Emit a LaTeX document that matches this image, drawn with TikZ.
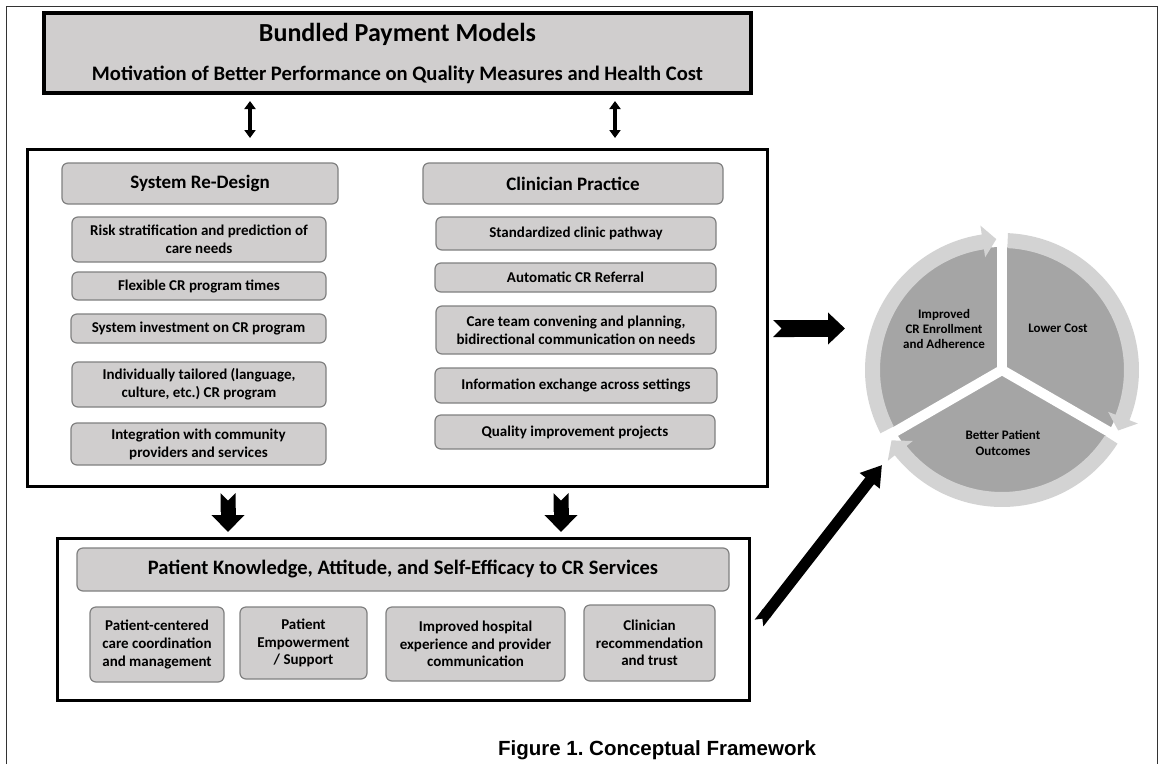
\documentclass[tikz,border=0pt]{standalone}
\usepackage{fontspec}
\setmainfont{Carlito}
\newfontfamily\capfont{Liberation Sans}
\usetikzlibrary{arrows.meta}
\frenchspacing

\definecolor{boxgray}{HTML}{D0CECE}
\definecolor{edgegray}{HTML}{808080}
\definecolor{piedark}{HTML}{A5A5A5}
\definecolor{ringlight}{HTML}{D3D3D3}

\begin{document}
\begin{tikzpicture}[x=1pt,y=-1pt,
  every node/.style={inner sep=0pt, outer sep=0pt},
  frame/.style={draw=black!80, line width=1pt},
  banner/.style={draw=black, line width=3.5pt, fill=boxgray},
  panel/.style={draw=black, line width=3pt},
  item/.style={draw=edgegray, line width=1.2pt, fill=boxgray, rounded corners=6pt,
    align=center, font=\bfseries\fontsize{15}{18}\selectfont},
  bitem/.style={item, font=\bfseries\fontsize{15}{17.7}\selectfont},
  hdr/.style={item, font=\bfseries\fontsize{19}{23}\selectfont},
  pielabel/.style={align=center, font=\bfseries\fontsize{13}{15.2}\selectfont},
  dblarrow/.style={line width=4pt, {Triangle[width=11pt,length=8pt]}-{Triangle[width=11pt,length=8pt]}},
  fatarrow/.style n args={3}{line width=#1, {Triangle Cap[reversed]}-{Triangle[width=#2,length=#3]}}
]
\useasboundingbox (0,0) rectangle (1160,764);

% page frame
\draw[frame] (6.5,764) -- (6.5,6.5) -- (1157.5,6.5) -- (1157.5,764);

% payment model banner
\node[banner, minimum width=707pt, minimum height=80pt] (bpm) at (397.5,53) {};
\node[anchor=base, font=\bfseries\fontsize{26}{31}\selectfont] (bpmtitle) at (397.5,41) {Bundled Payment Models};
\node[anchor=base, font=\bfseries\fontsize{20.6}{25}\selectfont] (bpmsub) at (397.5,80) {Motivation of Better Performance on Quality Measures and Health Cost};

% system and clinician panel
\node[panel, minimum width=740pt, minimum height=337pt] (mid) at (397,317.5) {};
\node[hdr, minimum width=276pt, minimum height=41pt] (sysh) at (200,183.5) {System Re-Design};
\node[hdr, minimum width=300pt, minimum height=41pt] (clih) at (573,183.5) {Clinician Practice};

\node[item, minimum width=254pt, minimum height=45pt] (s1) at (199,239.5) {Risk stratification and prediction of\\care needs};
\node[item, minimum width=254pt, minimum height=28pt] (s2) at (199,286) {Flexible CR program times};
\node[item, minimum width=255pt, minimum height=29pt] (s3) at (198.5,328.5) {System investment on CR program};
\node[item, minimum width=254pt, minimum height=45pt] (s4) at (199,384.5) {Individually tailored (language,\\culture, etc.) CR program};
\node[item, minimum width=255pt, minimum height=42pt] (s5) at (198.5,444) {Integration with community\\providers and services};

\node[item, minimum width=280pt, minimum height=33pt] (c1) at (576,233.5) {Standardized clinic pathway};
\node[item, minimum width=281pt, minimum height=29pt] (c2) at (575.5,277.5) {Automatic CR Referral};
\node[item, minimum width=280pt, minimum height=48pt] (c3) at (576,330) {Care team convening and planning,\\bidirectional communication on needs};
\node[item, minimum width=282pt, minimum height=35pt] (c4) at (576,385.5) {Information exchange across settings};
\node[item, minimum width=280pt, minimum height=34pt] (c5) at (575,432) {Quality improvement projects};

% patient panel
\node[panel, minimum width=692pt, minimum height=162pt] (bot) at (403,619) {};
\node[item, font=\bfseries\fontsize{20.5}{24}\selectfont, minimum width=652pt, minimum height=43pt] (pkh) at (403,569.5) {Patient Knowledge, Attitude, and Self-Efficacy to CR Services};
\node[bitem, minimum width=134pt, minimum height=75pt] (p1) at (157,644.5) {Patient-centered\\care coordination\\and management};
\node[bitem, minimum width=127pt, minimum height=72pt] (p2) at (303.5,643) {Patient\\Empowerment\\/ Support};
\node[bitem, minimum width=179pt, minimum height=74pt] (p3) at (475.5,644) {Improved hospital\\experience and provider\\communication};
\node[bitem, minimum width=131pt, minimum height=76pt] (p4) at (649.5,643) {Clinician\\recommendation\\and trust};

% outcome cycle
\node[circle, minimum size=274pt] (cyc) at (1002,370) {};
\begin{scope}[shift={(1002,370)}, yscale=-1]
  \fill[piedark] (0,0) circle (123);
  \foreach \g in {90,-30,210}
    \draw[white, line width=10pt] (0,0) -- (\g:150);
  \fill[ringlight] (207.5:137) arc[start angle=207.5, end angle=98.5, radius=137]
    -- (98.5:146) -- (92.5:131) -- (98.5:114) -- (98.5:122)
    arc[start angle=98.5, end angle=207.5, radius=122] -- cycle;
  \fill[ringlight] (87.5:137) arc[start angle=87.5, end angle=-21.5, radius=137]
    -- (-21.5:146) -- (-27.5:131) -- (-21.5:114) -- (-21.5:122)
    arc[start angle=-21.5, end angle=87.5, radius=122] -- cycle;
  \fill[ringlight] (-32.5:137) arc[start angle=-32.5, end angle=-141.5, radius=137]
    -- (-141.5:146) -- (-147.5:131) -- (-141.5:114) -- (-141.5:122)
    arc[start angle=-141.5, end angle=-32.5, radius=122] -- cycle;
\end{scope}
\node[pielabel] (o1) at (944,329) {Improved\\CR Enrollment\\and Adherence};
\node[pielabel] (o2) at (1058,328) {Lower Cost};
\node[pielabel] (o3) at (1003,443) {Better Patient\\Outcomes};

% connectors
\coordinate (xl) at (250,0);
\coordinate (xr) at (615,0);
\draw[dblarrow, shorten <=8pt, shorten >=11pt] (bpm.south -| xl) -- (mid.north -| xl);
\draw[dblarrow, shorten <=8pt, shorten >=11pt] (bpm.south -| xr) -- (mid.north -| xr);

\coordinate (dl) at (228,0);
\coordinate (dr) at (561,0);
\draw[fatarrow={15pt}{32pt}{17pt}, shorten <=7pt, shorten >=6pt] (mid.south -| dl) -- (bot.north -| dl);
\draw[fatarrow={15pt}{32pt}{17pt}, shorten <=7pt, shorten >=6pt] (mid.south -| dr) -- (bot.north -| dr);

\draw[fatarrow={17pt}{31pt}{17pt}, shorten <=6pt, shorten >=20pt] (mid.east |- s3.center) -- (cyc.west |- s3.center);

\coordinate (dtip) at (882,465);
\draw[fatarrow={11pt}{24pt}{20pt}] ([xshift=10pt,yshift=-4pt]bot.east) -- (dtip);

% caption
\node[anchor=base, font=\capfont\bfseries\fontsize{20.5}{24}\selectfont] (cap) at (657,755) {Figure 1. Conceptual Framework};
\end{tikzpicture}
\end{document}
